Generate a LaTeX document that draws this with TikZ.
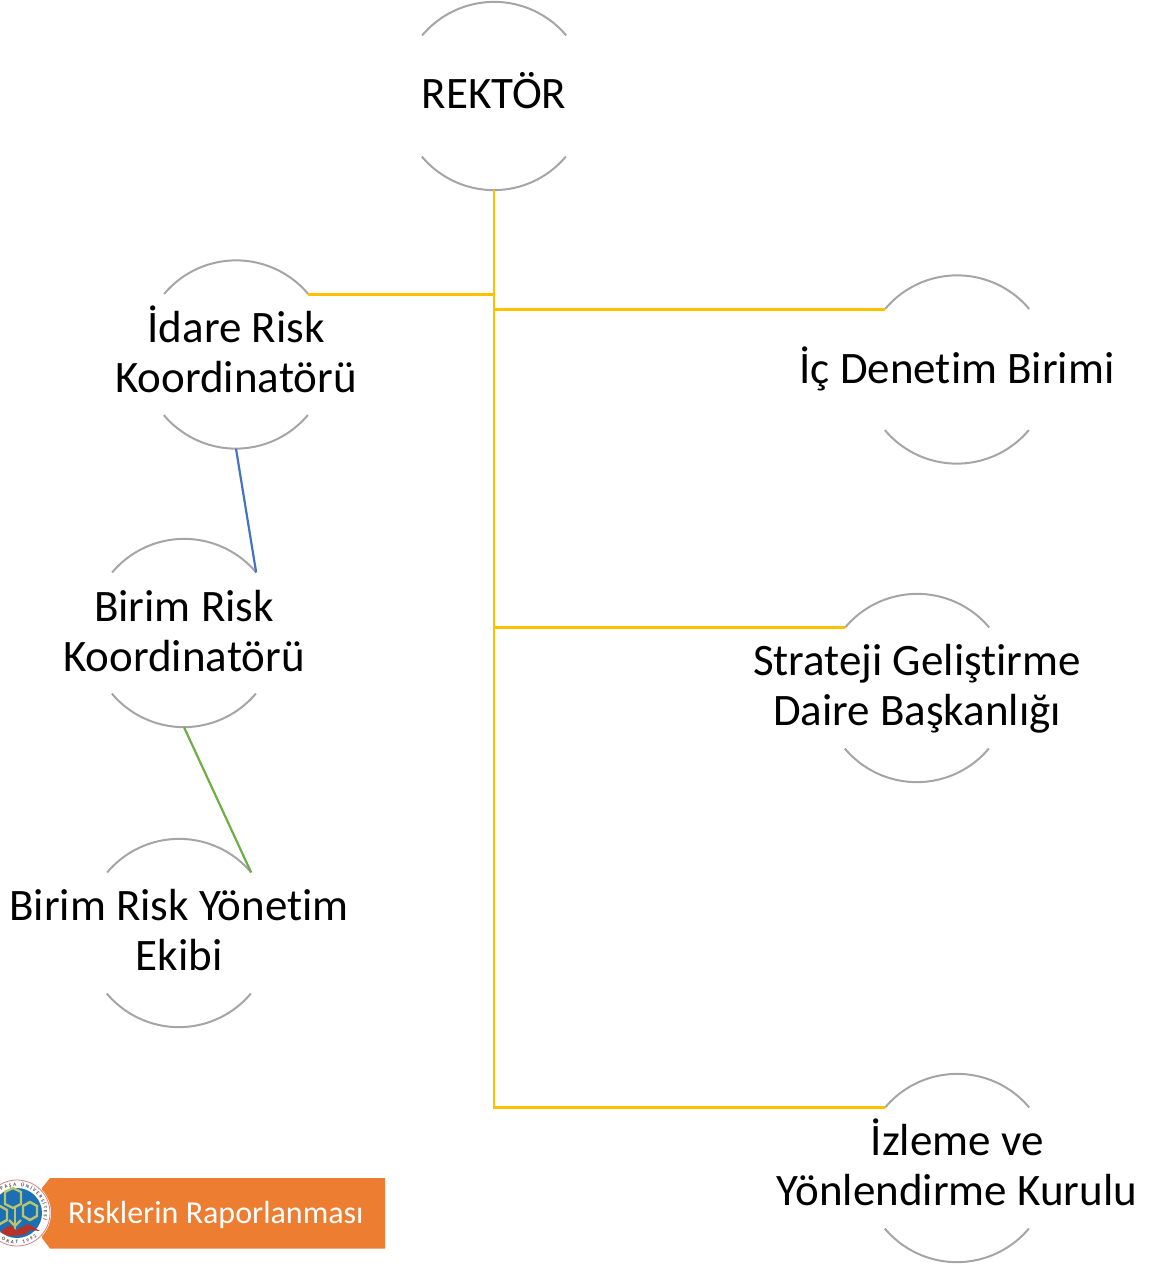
\documentclass[tikz,border=0pt]{standalone}
\usepackage{fontspec}
\usetikzlibrary{decorations.text}
\setmainfont{Carlito}[Ligatures=NoCommon]
\definecolor{arcgray}{HTML}{A5A5A5}
\definecolor{gold}{HTML}{FFC000}
\definecolor{bluel}{HTML}{4472C4}
\definecolor{greenl}{HTML}{70AD47}
\definecolor{bannerc}{HTML}{ED7D31}
\definecolor{logoblue}{HTML}{1B6FB5}
\definecolor{logogreen}{HTML}{B9C56A}
\definecolor{logored}{HTML}{B8322A}
\tikzset{
  role/.style={circle,minimum size=188pt,inner sep=0pt},
  roletext/.style={inner sep=0pt,align=center,font=\fontsize{45}{50}\selectfont,text=black},
  arcline/.style={draw=arcgray,line width=2pt},
  goldline/.style={draw=gold,line width=2.8pt},
  blueline/.style={draw=bluel,line width=2.2pt},
  greenline/.style={draw=greenl,line width=2.2pt},
}
\begin{document}
\begin{tikzpicture}[x=1pt,y=-1pt]
\useasboundingbox (0,0) rectangle (1162,1268);
\node[role] (rek) at (494,96) {};
\node[role] (ida) at (236,354.5) {};
\node[role] (bir) at (184,633) {};
\node[role] (eki) at (179,933) {};
\node[role] (ic) at (957,369.5) {};
\node[role] (str) at (917,688) {};
\node[role] (izl) at (957,1168) {};
\node[roletext] (rekt) at (494,91) {REKTÖR};
\node[roletext] (idat) at (236,349.5) {İdare Risk\\Koordinatörü};
\node[roletext] (birt) at (184,631) {Birim Risk\\Koordinatörü};
\node[roletext] (ekit) at (179,930) {Birim Risk Yönetim\\Ekibi};
\node[roletext] (ict) at (957,369) {İç Denetim Birimi};
\node[roletext] (strt) at (917,689) {Strateji Geliştirme\\Daire Başkanlığı};
\node[roletext] (izlt) at (957,1162.5) {İzleme ve\\Yönlendirme Kurulu};
\foreach \n in {rek,ida,bir,eki,ic,str,izl}{
  \draw[arcline] (\n.40) arc[start angle=40,end angle=140,radius=94pt];
  \draw[arcline] (\n.220) arc[start angle=220,end angle=320,radius=94pt];
}
\coordinate (jIda) at (494,294.5);
\coordinate (jIc) at (494,309.5);
\coordinate (jStr) at (494,627.5);
\coordinate (jIzl) at (494,1107.5);
\draw[goldline] (rek.south) -- (jIzl) -- (jIzl -| izl.140);
\draw[goldline] (jIda) -- (jIda -| ida.40);
\draw[goldline] (jIc) -- (jIc -| ic.140);
\draw[goldline] (jStr) -- (jStr -| str.140);
\draw[blueline] (ida.south) -- (bir.40);
\draw[greenline] (bir.south) -- (eki.40);
% banner
\fill[bannerc] (50,1178) -- (385,1178) -- (385,1248.5) -- (50,1248.5) -- (42,1238) -- (42,1188) -- cycle;
\node[font=\fontsize{32}{38}\selectfont,text=white,anchor=west,inner sep=0pt] (ban) at (68,1215) {Risklerin Raporlanması};
% logo
\begin{scope}
\clip (0,1170) rectangle (60,1256);
\fill[white] (17,1213) circle[radius=34];
\draw[logored!60,line width=0.8pt] (17,1213) circle[radius=33];
\fill[logoblue] (17,1213) circle[radius=25];
\begin{scope}[line width=2.4pt,draw=logogreen]
\draw (13,1188) -- (21,1192) -- (21,1204) -- (13,1208) -- (5,1204) -- (5,1192) -- cycle;
\draw (30,1202) -- (37,1206) -- (37,1216) -- (30,1220) -- (23,1216) -- (23,1206) -- cycle;
\draw (0,1206) -- (7,1210) -- (7,1220) -- (0,1224) -- (-7,1220) -- (-7,1210) -- cycle;
\draw (15,1206) -- (15,1230);
\draw (9,1220) -- (15,1226) -- (21,1220);
\end{scope}
\fill[logored] (0,1232) -- (10,1225) -- (16,1230) -- (28,1224) -- (40,1231) -- (30,1230) -- (24,1235) -- (8,1236) -- cycle;
\path[decorate,decoration={text along path,text align={fit to path},text={|\fontsize{5}{5}\selectfont\bfseries\color{black!70}|PAŞA ÜNİVERSİTESİ}}]
  (1.5,1190.9) arc[start angle=125,end angle=-15,radius=27pt];
\path[decorate,decoration={text along path,text align={fit to path},text={|\fontsize{5}{5}\selectfont\bfseries\color{black!70}|OKAT 1992}}]
  (1.5,1239.8) arc[start angle=240,end angle=310,radius=31pt];
\end{scope}
\end{tikzpicture}
\end{document}
